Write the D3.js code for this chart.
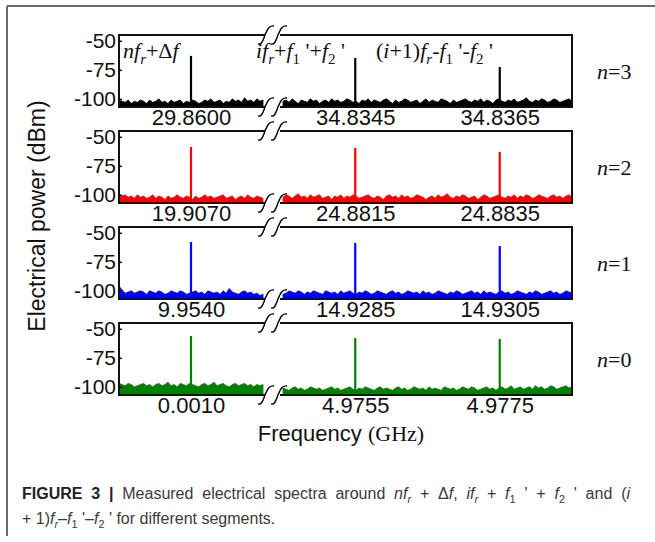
<!DOCTYPE html>
<html>
<head>
<meta charset="utf-8">
<script src="https://cdn.jsdelivr.net/npm/d3@7"></script>
<style>
body { margin: 0; background: #fff; }
svg text { font-family: "Liberation Sans", Arial, sans-serif; }
</style>
</head>
<body>
<script>
"use strict";

// one row per segment, top to bottom
var segments = [3, 2, 1, 0];
var colors = ["#000000", "#ff0000", "#0000ff", "#008000"];
var leftCenter = [29.8600, 19.9070, 9.9540, 0.0010];
var rightPeakA = [34.8345, 24.8815, 14.9285, 4.9755];
var rightPeakB = [34.8365, 24.8835, 14.9305, 4.9775];
var peakLeft = [-63, -58.8, -58, -56.2];
var peakA = [-64.8, -59.6, -58.8, -58];
var peakB = [-72.5, -63, -61.4, -58.8];
var yTicks = [-50, -75, -100];

var noiseLeft3 = [-101,-102,-103,-101,-104,-102,-103,-101,-102,-104,-101,-103,-102,-100,-103,-102,-104,-101,-103,-102,-101,-104,-102,-103,-101,-102,-104,-103,-101,-102,-100,-103,-102,-101,-104,-102,-103,-100,-102,-101,-103,-99,-102,-101,-103,-100,-102,-101];
var noiseRight3 = [-102,-101,-103,-100,-102,-104,-101,-102,-103,-100,-102,-101,-104,-102,-101,-103,-100,-102,-101,-103,-102,-100,-101,-103,-102,-104,-101,-102,-100,-103,-101,-102,-103,-101,-100,-102,-104,-101,-103,-102,-100,-101,-103,-102,-101,-104,-102,-100,-103,-101,-102,-103,-100,-101,-102,-104,-101,-103,-102,-101,-100,-102,-103,-101,-102,-100,-103,-101,-102,-104,-101,-100,-102,-103,-101,-102,-100,-103,-102,-101,-99,-102,-103,-101,-102,-100,-101,-103,-102,-100,-101,-103,-102,-101,-100,-102];
var noiseLeft2 = [-99,-101,-100,-102,-101,-103,-100,-102,-101,-103,-102,-100,-103,-101,-102,-104,-101,-103,-102,-100,-102,-103,-101,-102,-104,-101,-103,-102,-100,-102,-101,-103,-102,-101,-100,-103,-102,-101,-104,-102,-101,-103,-100,-102,-103,-101,-102,-103];
var noiseRight2 = [-102,-100,-101,-103,-101,-99,-102,-101,-103,-100,-102,-101,-100,-103,-102,-101,-104,-101,-102,-100,-103,-101,-102,-100,-101,-103,-102,-101,-100,-102,-103,-101,-102,-104,-101,-100,-102,-101,-103,-100,-102,-101,-103,-102,-100,-101,-102,-104,-102,-101,-103,-100,-102,-101,-99,-102,-103,-101,-102,-100,-101,-103,-102,-101,-104,-102,-100,-101,-103,-102,-101,-100,-102,-103,-101,-102,-100,-103,-101,-102,-100,-101,-103,-102,-100,-101,-102,-103,-101,-100,-102,-101,-103,-101,-100,-102];
var noiseLeft1 = [-96,-99,-102,-101,-100,-102,-101,-100,-101,-103,-100,-101,-102,-100,-101,-103,-102,-100,-101,-102,-100,-101,-103,-102,-101,-100,-102,-101,-103,-100,-101,-102,-101,-103,-100,-102,-98,-101,-102,-103,-101,-100,-102,-101,-103,-102,-104,-103];
var noiseRight1 = [-103,-102,-100,-101,-102,-100,-101,-103,-101,-102,-100,-101,-102,-103,-100,-101,-102,-101,-103,-100,-102,-101,-100,-102,-103,-101,-102,-100,-101,-103,-102,-100,-101,-102,-103,-101,-100,-102,-101,-103,-102,-100,-101,-102,-101,-103,-100,-102,-101,-103,-102,-100,-101,-102,-103,-101,-102,-100,-101,-103,-102,-101,-100,-102,-101,-103,-100,-102,-101,-102,-103,-101,-100,-102,-101,-103,-102,-100,-101,-102,-103,-101,-102,-100,-101,-103,-102,-101,-100,-102,-101,-103,-102,-100,-101,-102];
var noiseLeft0 = [-97,-98,-99,-97,-98,-100,-99,-98,-97,-99,-98,-100,-98,-97,-99,-98,-96,-99,-98,-100,-97,-98,-99,-97,-98,-99,-100,-98,-97,-99,-98,-96,-99,-98,-97,-99,-100,-98,-97,-99,-98,-97,-99,-98,-100,-98,-99,-98];
var noiseRight0 = [-101,-102,-103,-101,-100,-102,-101,-103,-102,-100,-101,-102,-101,-103,-102,-101,-100,-102,-101,-103,-102,-101,-100,-102,-103,-101,-102,-100,-101,-102,-103,-101,-100,-102,-101,-102,-103,-101,-100,-102,-101,-103,-102,-100,-101,-102,-101,-103,-100,-102,-101,-102,-103,-100,-101,-102,-101,-103,-102,-100,-101,-102,-100,-101,-103,-102,-101,-100,-102,-101,-103,-101,-100,-102,-101,-99,-102,-101,-100,-102,-101,-100,-102,-99,-101,-100,-102,-101,-99,-100,-102,-101,-100,-99,-101,-100];
var noiseLeft = [noiseLeft3, noiseLeft2, noiseLeft1, noiseLeft0];
var noiseRight = [noiseRight3, noiseRight2, noiseRight1, noiseRight0];

var width = 655;
var height = 542;
var plotLeft = 119;
var plotRight = 572;
var breakLeft = 264;
var breakRight = 282;
var panelTop = 35;
var panelStep = 96;
var panelH = 72;
var halfSpan = 0.001;
var serif = "'Liberation Serif', 'Times New Roman', serif";
var sans = "'Liberation Sans', Arial, sans-serif";

var svg = d3.select("body").append("svg").attr("width", width).attr("height", height);

// outer frame of the figure page
svg.append("line").attr("x1", 7).attr("x2", width).attr("y1", 6).attr("y2", 6).attr("stroke", "#6b6b6b").attr("stroke-width", 2);
svg.append("line").attr("x1", 7).attr("x2", 7).attr("y1", 6).attr("y2", 536).attr("stroke", "#6b6b6b").attr("stroke-width", 2);

var y = d3.scaleLinear().domain([-107, -45]).range([panelH, 0]);
var yAxis = d3.axisLeft(y).tickValues(yTicks).tickFormat(function (d) { return String(d); }).tickSize(-3).tickPadding(3);

function squiggle(g, cx, cy) {
  g.append("path").attr("transform", "translate(" + cx + "," + cy + ")")
    .attr("d", "M-8,9 C-4,10 -3,5 -1,0 S3,-10 8,-9")
    .attr("fill", "none").attr("stroke", "#000").attr("stroke-width", 1.4);
}

segments.forEach(function (n, i) {
  var g = svg.append("g").attr("transform", "translate(0," + (panelTop + i * panelStep) + ")");
  var xl = d3.scaleLinear().domain([leftCenter[i] - halfSpan, leftCenter[i] + halfSpan]).range([plotLeft, breakLeft - 1]);
  var xr = d3.scaleLinear().domain([rightPeakA[i] - halfSpan, rightPeakB[i] + halfSpan]).range([breakRight + 1, plotRight]);

  function drawNoise(vals, sc) {
    var d0 = sc.domain()[0], d1 = sc.domain()[1];
    var area = d3.area()
      .x(function (d, k) { return sc(d0 + k * (d1 - d0) / (vals.length - 1)); })
      .y0(panelH)
      .y1(function (d) { return y(d); });
    g.append("path").datum(vals).attr("d", area).attr("fill", colors[i]).attr("stroke", colors[i]).attr("stroke-width", 0.8);
  }
  drawNoise(noiseLeft[i], xl);
  drawNoise(noiseRight[i], xr);

  var peaks = [[xl(leftCenter[i]), peakLeft[i]], [xr(rightPeakA[i]), peakA[i]], [xr(rightPeakB[i]), peakB[i]]];
  g.selectAll(".peak").data(peaks).enter().append("line").attr("class", "peak")
    .attr("x1", function (d) { return d[0]; }).attr("x2", function (d) { return d[0]; })
    .attr("y1", panelH).attr("y2", function (d) { return y(d[1]); })
    .attr("stroke", colors[i]).attr("stroke-width", 2.2);

  // box with the axis break
  var frame = g.append("g").attr("stroke", "#111").attr("stroke-width", 2).attr("fill", "none");
  [0, panelH].forEach(function (yy) {
    frame.append("line").attr("x1", plotLeft).attr("x2", breakLeft + 1).attr("y1", yy).attr("y2", yy);
    frame.append("line").attr("x1", breakRight - 2).attr("x2", plotRight).attr("y1", yy).attr("y2", yy);
    squiggle(g, breakLeft + 2, yy);
    squiggle(g, breakRight - 3, yy);
  });
  frame.append("line").attr("x1", plotLeft).attr("x2", plotLeft).attr("y1", -1).attr("y2", panelH + 1);
  frame.append("line").attr("x1", plotRight).attr("x2", plotRight).attr("y1", -1).attr("y2", panelH + 1);

  var ya = g.append("g").attr("transform", "translate(" + plotLeft + ",0)").call(yAxis);
  ya.select(".domain").remove();
  ya.selectAll("text").attr("font-size", 21).attr("fill", "#111").style("font-family", sans);
  ya.selectAll("line").attr("stroke", "#111").attr("stroke-width", 1.5);

  var fmt = d3.format(".4f");
  [[xl, [leftCenter[i]]], [xr, [rightPeakA[i], rightPeakB[i]]]].forEach(function (p) {
    var xa = g.append("g").attr("transform", "translate(0," + panelH + ")")
      .call(d3.axisBottom(p[0]).tickValues(p[1]).tickFormat(fmt).tickSize(0).tickPadding(2));
    xa.select(".domain").remove();
    xa.selectAll("text").attr("font-size", 22).attr("fill", "#111").style("font-family", sans);
  });

  var lab = g.append("text").attr("x", 597).attr("y", panelH / 2).attr("dy", "0.35em")
    .attr("font-size", 22).attr("fill", "#111").style("font-family", serif);
  lab.append("tspan").attr("font-style", "italic").text("n");
  lab.append("tspan").text("=" + n);
});

// rich text helper: parts are [text, italic, sub, bold]
function richText(parent, x, yy, size, family, parts) {
  var t = parent.append("text").attr("x", x).attr("y", yy).attr("font-size", size).style("font-family", family).attr("fill", "#111");
  var shift = 0;
  parts.forEach(function (p) {
    var want = p[2] ? size * 0.25 : 0;
    var ts = t.append("tspan").attr("dy", want - shift).text(p[0]);
    if (p[1]) ts.attr("font-style", "italic");
    if (p[2]) ts.attr("font-size", size * 0.68);
    if (p[3]) ts.attr("font-weight", "bold").attr("fill", "#222");
    shift = want;
  });
  return t;
}

var annY = panelTop + 23;
richText(svg, 123, annY, 22, serif, [["nf", 1], ["r", 1, 1], ["+Δ"], ["f", 1]]);
richText(svg, 256, annY, 22, serif, [["if", 1], ["r", 1, 1], ["+"], ["f", 1], ["1", 0, 1], [" '+"], ["f", 1], ["2", 0, 1], [" '"]]);
richText(svg, 376, annY, 22, serif, [["("], ["i", 1], ["+1)"], ["f", 1], ["r", 1, 1], ["-"], ["f", 1], ["1", 0, 1], [" '-"], ["f", 1], ["2", 0, 1], [" '"]]);

// axis titles
svg.append("text").attr("transform", "translate(45,216) rotate(-90)").attr("text-anchor", "middle")
  .attr("font-size", 23).attr("fill", "#111").text("Electrical power (dBm)");
var xt = svg.append("text").attr("x", 341).attr("y", 441).attr("text-anchor", "middle").attr("font-size", 22).attr("fill", "#111");
xt.append("tspan").text("Frequency ");
xt.append("tspan").style("font-family", serif).text("(GHz)");

// caption, first line justified to the column width
var cap1 = richText(svg, 22, 499, 16, sans, [["FIGURE 3 | ", 0, 0, 1], ["Measured electrical spectra around "], ["nf", 1], ["r", 1, 1], [" + Δ"], ["f", 1], [", "], ["if", 1], ["r", 1, 1], [" + "], ["f", 1], ["1", 0, 1], [" ' + "], ["f", 1], ["2", 0, 1], [" ' and ("], ["i", 1]]);
var cap2 = richText(svg, 22, 524, 16, sans, [["+ 1)"], ["f", 1], ["r", 1, 1], ["–"], ["f", 1], ["1", 0, 1], [" '–"], ["f", 1], ["2", 0, 1], [" ' for different segments."]]);
cap1.attr("fill", "#3a3a3a");
cap2.attr("fill", "#3a3a3a");
var natural = cap1.node().getComputedTextLength();
var gaps = cap1.text().split(" ").length - 1;
cap1.attr("word-spacing", Math.max(0, (608 - natural) / gaps));
</script>
</body>
</html>
